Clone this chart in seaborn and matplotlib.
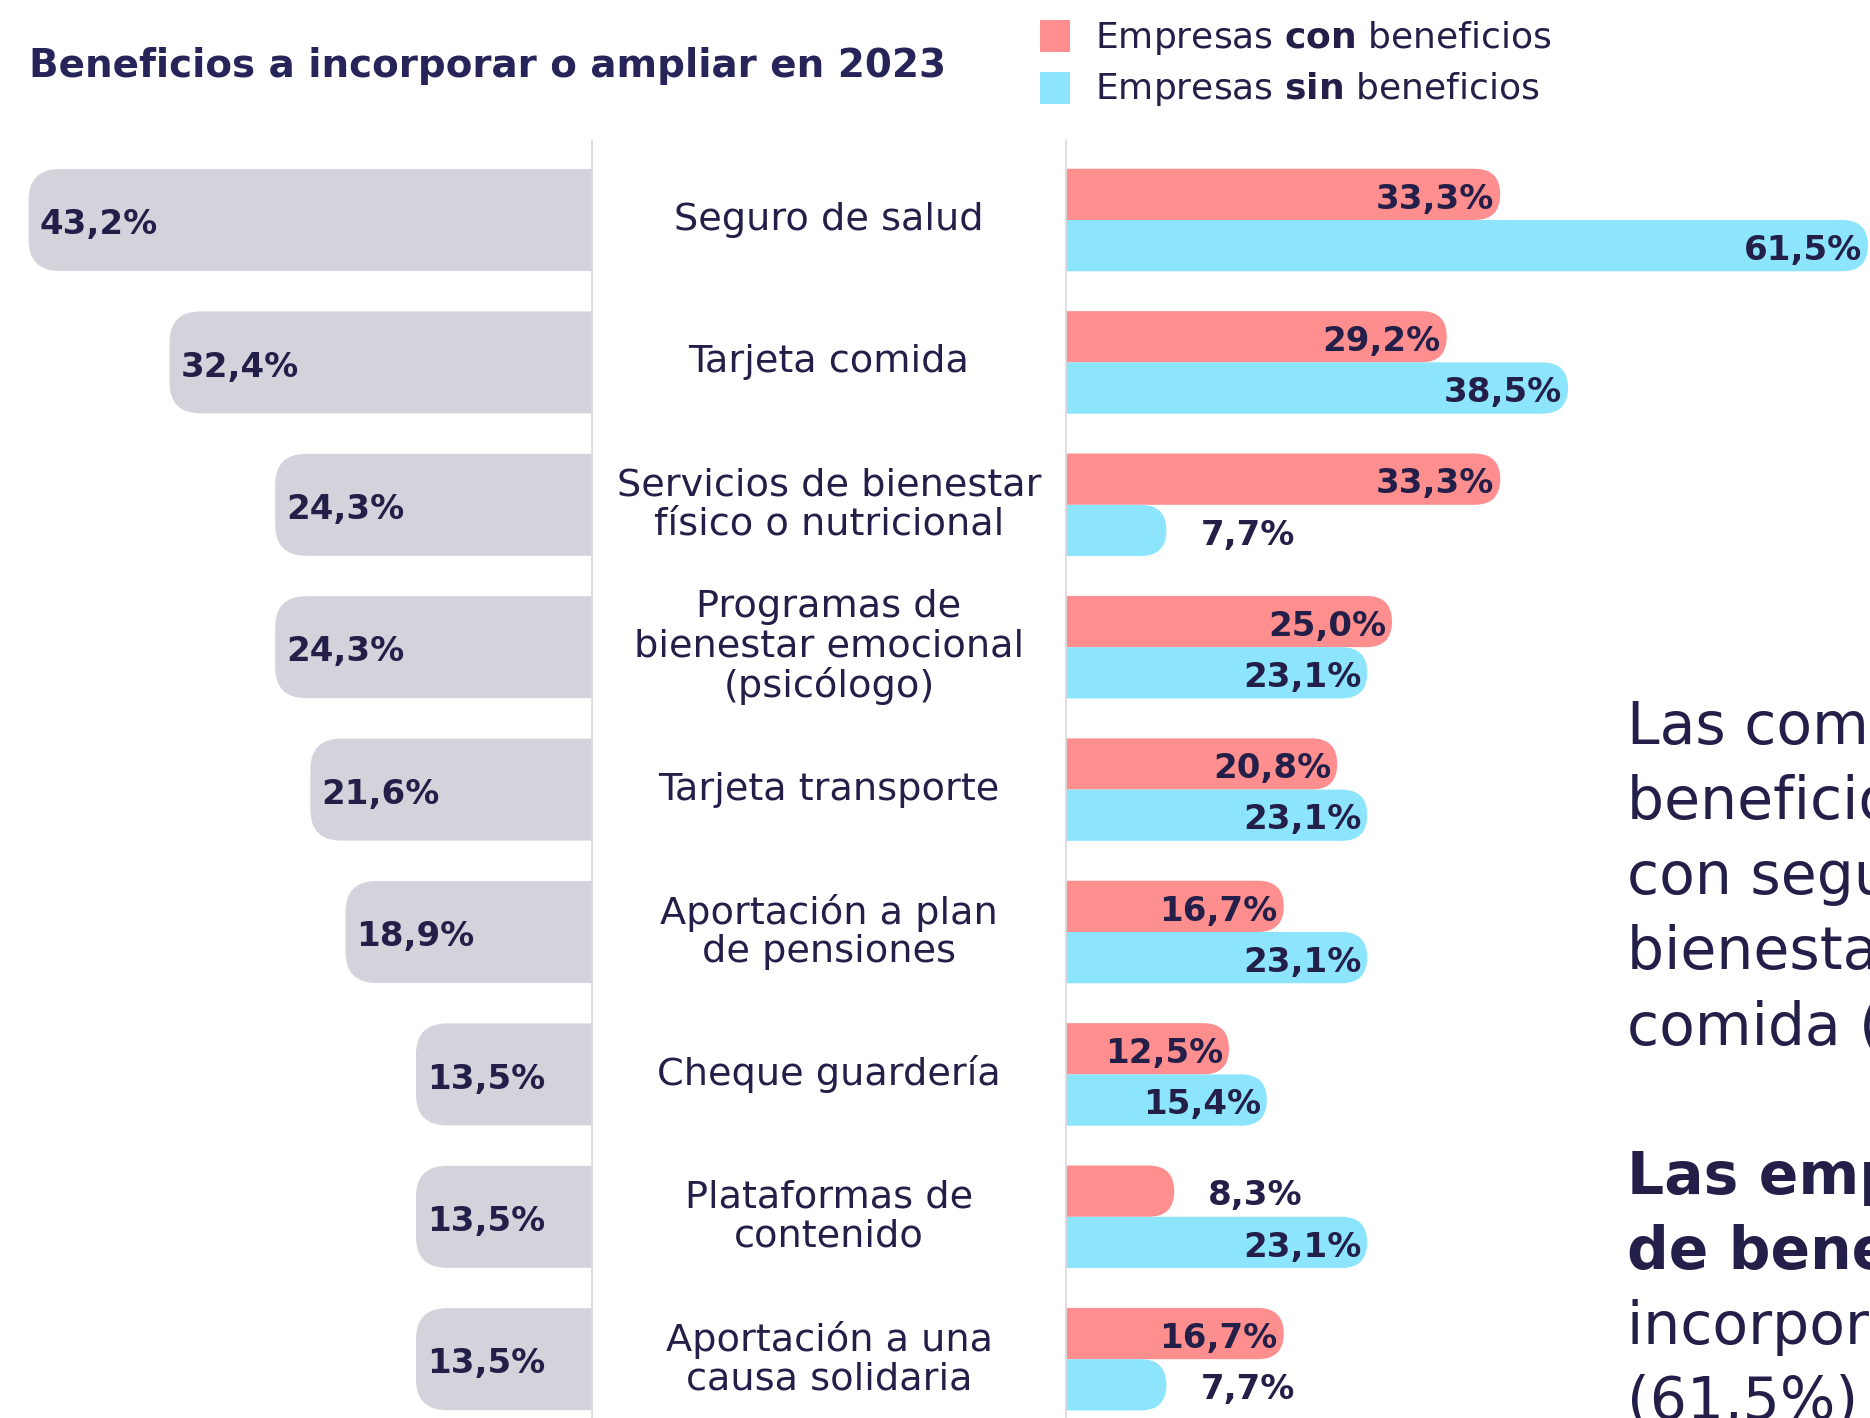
import matplotlib
matplotlib.use("Agg")
import matplotlib.pyplot as plt
import pandas as pd
import seaborn as sns
from matplotlib.lines import Line2D
from matplotlib.patches import FancyBboxPatch, Rectangle

categories = [
    "Seguro de salud",
    "Tarjeta comida",
    "Servicios de bienestar\nfísico o nutricional",
    "Programas de\nbienestar emocional\n(psicólogo)",
    "Tarjeta transporte",
    "Aportación a plan\nde pensiones",
    "Cheque guardería",
    "Plataformas de\ncontenido",
    "Aportación a una\ncausa solidaria",
]
total = [43.2, 32.4, 24.3, 24.3, 21.6, 18.9, 13.5, 13.5, 13.5]
con_beneficios = [33.3, 29.2, 33.3, 25.0, 20.8, 16.7, 12.5, 8.3, 16.7]
sin_beneficios = [61.5, 38.5, 7.7, 23.1, 23.1, 23.1, 15.4, 23.1, 7.7]
series_names = ["Empresas con beneficios", "Empresas sin beneficios"]

title = "Beneficios a incorporar o ampliar en 2023"
side_text = ["Las compañías con", "beneficios apuestan", "con seguro de salud,",
             "bienestar y tarjeta", "comida (33,3%)."]
side_bold = ["Las empresas sin plan", "de beneficios"]
side_tail = ["incorporarían seguro", "(61,5%) y tarjeta"]

NAVY = "#231f48"
TITLE_C = "#27245a"
GRAY = "#d4d3dc"
RED = "#ff8f8f"
CYAN = "#8ce5fc"
LINE = "#dcdbe3"

# layout in pixels of the final image
W, H = 1870, 1418
TOP = 140
ROW0, ROW_STEP = 220, 142.4
PX = 13.04  # pixels per percentage point
X_MID0, X_MID1 = 592, 1066

sns.set_style("white")
plt.rcParams["font.family"] = ["DejaVu Sans"]

fig = plt.figure(figsize=(W / 100, H / 100), dpi=100)
ax_h = (H - TOP) / H
ax_left = fig.add_axes([0, 0, X_MID0 / W, ax_h])
ax_mid = fig.add_axes([X_MID0 / W, 0, (X_MID1 - X_MID0) / W, ax_h])
ax_right = fig.add_axes([X_MID1 / W, 0, (W - X_MID1) / W, ax_h])
ylim = ((H - ROW0) / ROW_STEP, -(ROW0 - TOP) / ROW_STEP)


def fmt(v):
    return f"{v:.1f}".replace(".", ",") + "%"


def round_bars(ax, radius_px):
    # swap seaborn rectangles for rounded ones; the base end is pushed past
    # the axes edge so only the outer end shows rounded
    ma = PX / ROW_STEP
    out = []
    for p in list(ax.patches):
        x, y = p.get_xy()
        w, h = p.get_width(), p.get_height()
        rs = min(radius_px, h * ROW_STEP / 2) / PX
        fc = p.get_facecolor()
        p.remove()
        ax.add_patch(FancyBboxPatch(
            (x - 3 * rs, y), w + 3 * rs, h,
            boxstyle=f"round,pad=0,rounding_size={rs}",
            mutation_aspect=ma, fc=fc, ec="none", lw=0))
        out.append((w, y + h / 2))
    return out


# left: total
df_total = pd.DataFrame({"cat": categories, "pct": total})
sns.barplot(data=df_total, x="pct", y="cat", orient="h", color=GRAY,
            saturation=1, width=0.716, ax=ax_left)
left_bars = round_bars(ax_left, 31)
ax_left.set_xlim(X_MID0 / PX, 0)
ax_left.set_ylim(ylim)
for w, yc in left_bars:
    ax_left.text(w - 11 / PX, yc + 0.1, fmt(w), ha="left", va="baseline",
                 fontsize=24.5, fontweight="bold", color=NAVY)

# right: con / sin beneficios
df_long = pd.DataFrame({
    "cat": categories * 2,
    "pct": con_beneficios + sin_beneficios,
    "grupo": [series_names[0]] * len(categories) + [series_names[1]] * len(categories),
})
sns.barplot(data=df_long, x="pct", y="cat", hue="grupo", hue_order=series_names,
            palette=[RED, CYAN], orient="h", width=0.72, gap=0, dodge=True,
            saturation=1, legend=False, ax=ax_right)
right_bars = round_bars(ax_right, 30)
ax_right.set_xlim(0, (W - X_MID1) / PX)
ax_right.set_ylim(ylim)
for w, yc in right_bars:
    if w >= 10:
        ax_right.text(w - 6 / PX, yc + 0.1, fmt(w), ha="right", va="baseline",
                      fontsize=24.5, fontweight="bold", color=NAVY)
    else:
        ax_right.text(w + 34 / PX, yc + 0.1, fmt(w), ha="left", va="baseline",
                      fontsize=24.5, fontweight="bold", color=NAVY)

# middle: category names
ax_mid.set_xlim(0, 1)
ax_mid.set_ylim(ylim)
for i, cat in enumerate(categories):
    ax_mid.text(0.5, i, cat, ha="center", va="center", fontsize=27.5,
                linespacing=1.1, color=NAVY)

for ax in (ax_left, ax_mid, ax_right):
    ax.set_axis_off()

for xp in (X_MID0, X_MID1):
    fig.add_artist(Line2D([xp / W, xp / W], [0, ax_h], color=LINE, lw=1.3))

# title and legend
fig.text(29 / W, 1 - 77 / H, title, fontsize=28, fontweight="bold",
         color=TITLE_C, va="baseline")
legend_rows = [(RED, r"Empresas $\bf{con}$ beneficios", 20, 48),
               (CYAN, r"Empresas $\bf{sin}$ beneficios", 72, 99)]
for col, txt, sq_top, base in legend_rows:
    fig.add_artist(Rectangle((1040 / W, 1 - (sq_top + 32) / H), 30 / W, 32 / H,
                             transform=fig.transFigure, fc=col, ec="none"))
    fig.text(1095 / W, 1 - base / H, txt, fontsize=26, color=NAVY, va="baseline")

# side commentary, cut by the right edge as in the original layout
y0, step = 744, 75
for k, line in enumerate(side_text):
    fig.text(1627 / W, 1 - (y0 + k * step) / H, line, fontsize=42,
             color=NAVY, va="baseline")
y0 = 1194
for k, line in enumerate(side_bold + side_tail):
    fig.text(1627 / W, 1 - (y0 + k * step) / H, line, fontsize=42,
             color=NAVY, va="baseline",
             fontweight="bold" if k < len(side_bold) else "normal")

fig.savefig("out.png", dpi=100)
